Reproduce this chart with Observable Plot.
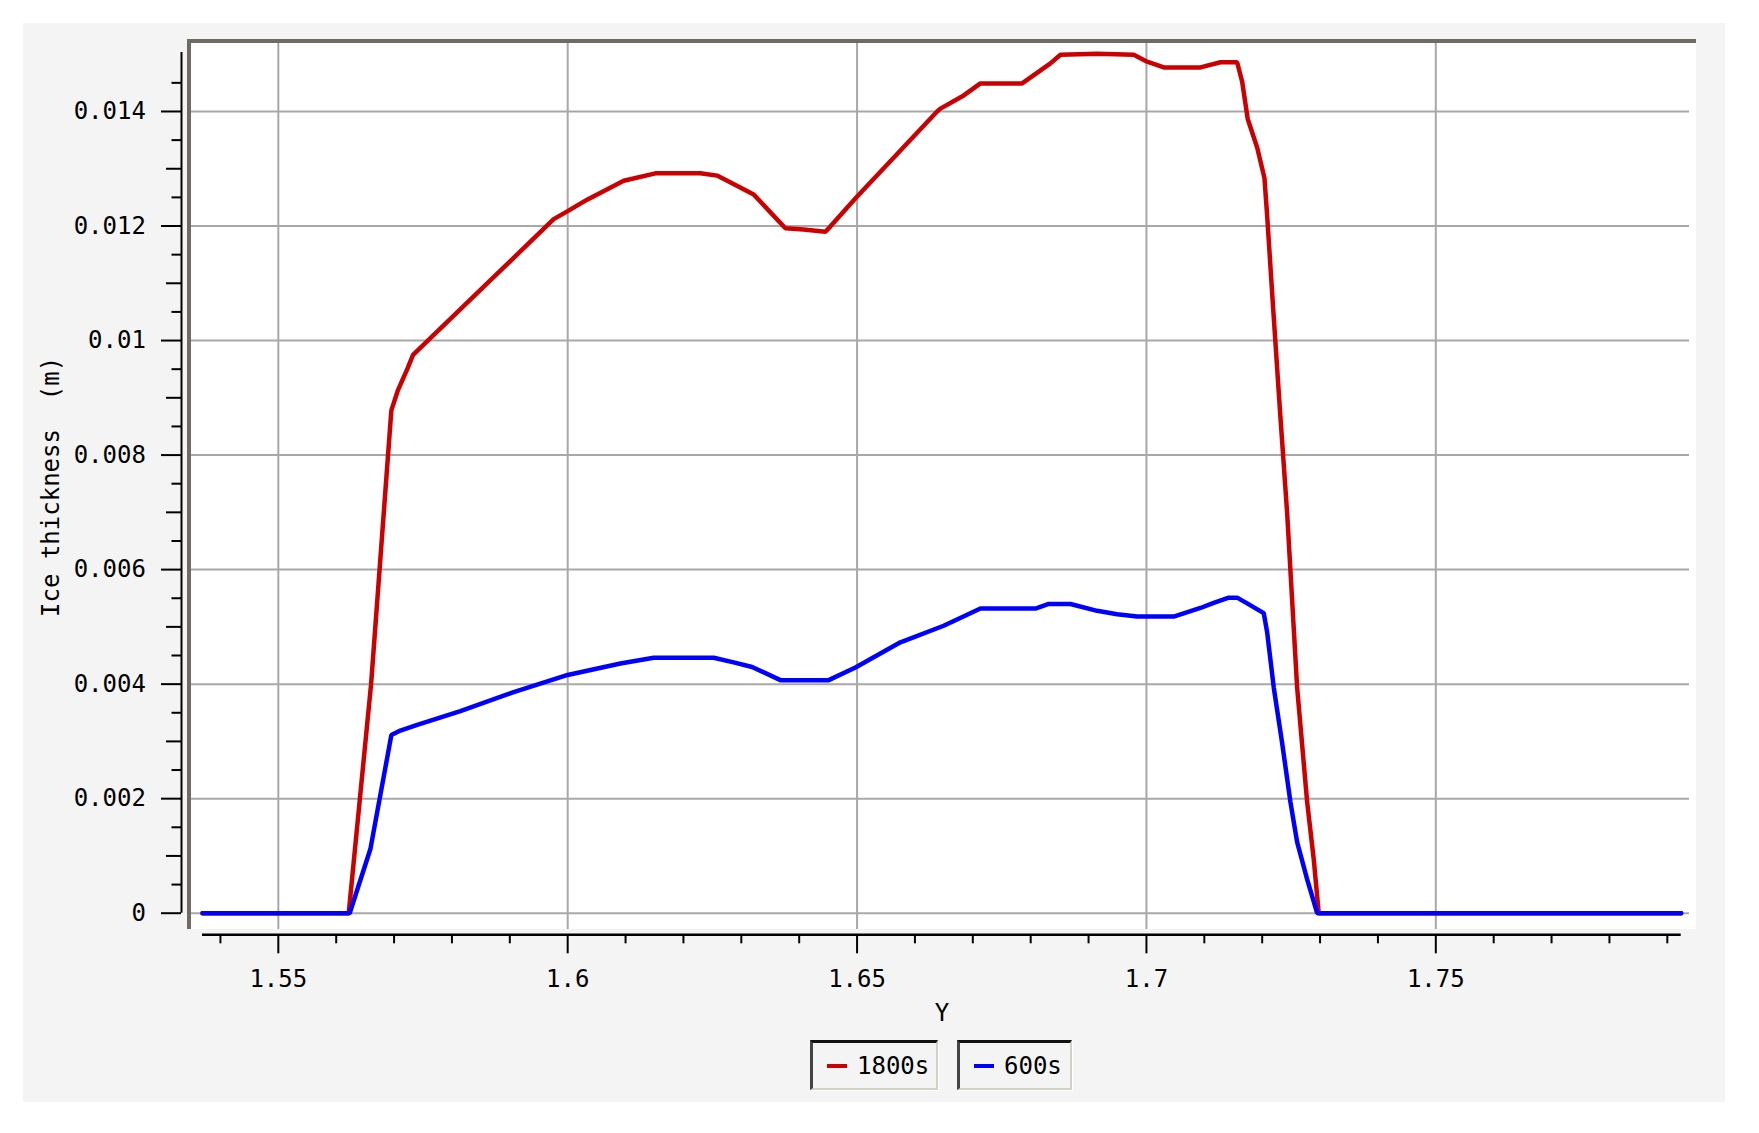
<!DOCTYPE html>
<html>
<head>
<meta charset="utf-8">
<script src="https://cdn.jsdelivr.net/npm/d3@7"></script>
<script src="https://cdn.jsdelivr.net/npm/@observablehq/plot@0.6"></script>
<style>
html, body { margin: 0; padding: 0; background: #ffffff; }
#page { position: relative; width: 1759px; height: 1133px; overflow: hidden; font-family: "DejaVu Sans Mono", "Liberation Mono", monospace; }
#panel { position: absolute; left: 23px; top: 23px; width: 1702px; height: 1079px; background: #f4f4f4; }
#frame { position: absolute; left: 187px; top: 39px; width: 1509px; height: 890px; background: #ffffff;
         border-top: 4px solid #6e6a64; border-left: 4px solid #6e6a64; box-sizing: border-box; }
#chart { position: absolute; left: 0; top: 0; }
.lg { position: absolute; top: 1040px; height: 50px; box-sizing: border-box;
      border-top: 3px solid #111111; border-left: 3px solid #444444;
      border-right: 2px solid #d4d0c8; border-bottom: 2px solid #d4d0c8;
      box-shadow: 1px 1px 0 #ffffff; background: #f4f4f4;
      display: flex; align-items: center; padding-left: 14px;
      font-size: 24px; color: #000000; white-space: nowrap; }
.sw { width: 20px; height: 4px; margin-right: 10px; flex: none; }
</style>
</head>
<body>
<div id="page">
  <div id="panel"></div>
  <div id="frame"></div>
  <div id="chart"></div>
  <div id="legend"></div>
</div>
<script>
// ---- data ----
const posY1800 = [1.5369, 1.56216, 1.56603, 1.56953, 1.57062, 1.57235, 1.57328, 1.58837, 1.59758, 1.6,
  1.60335, 1.60968, 1.61515, 1.62293, 1.62581, 1.63214, 1.63762, 1.64078, 1.64453, 1.64537, 1.64977,
  1.66383, 1.6644, 1.66843, 1.67131, 1.67852, 1.68341, 1.68514, 1.69148, 1.69781, 1.70012, 1.70299,
  1.70933, 1.71279, 1.71567, 1.71654, 1.7175, 1.71913, 1.72039, 1.72085, 1.72189, 1.72303, 1.72431,
  1.72604, 1.72777, 1.72891, 1.72977, 1.7924];
const ice1800 = [0, 0, 0.0040, 0.00878, 0.00912, 0.00952, 0.00975, 0.01122, 0.01212, 0.01226,
  0.01246, 0.01279, 0.01292, 0.01292, 0.01288, 0.01255, 0.01196, 0.01194, 0.0119, 0.01199, 0.01249,
  0.0140, 0.01405, 0.01428, 0.01449, 0.01449, 0.01484, 0.01499, 0.01501, 0.01499, 0.01487, 0.01477,
  0.01477, 0.01486, 0.01486, 0.01452, 0.01387, 0.01337, 0.01284, 0.01219, 0.01057, 0.00884, 0.00699,
  0.00394, 0.00194, 0.00094, 0, 0];

const posY600 = [1.5369, 1.56233, 1.56591, 1.56953, 1.57109, 1.5740, 1.58146, 1.59067, 1.6, 1.60911,
  1.61486, 1.62523, 1.62868, 1.63186, 1.63676, 1.6451, 1.64972, 1.65749, 1.66497, 1.67132, 1.68082,
  1.68312, 1.68687, 1.69148, 1.69494, 1.69839, 1.70472, 1.70933, 1.71163, 1.71422, 1.71567, 1.7174,
  1.72027, 1.72085, 1.722, 1.72345, 1.72488, 1.72604, 1.72777, 1.7295, 1.7924];
const ice600 = [0, 0, 0.00112, 0.00311, 0.00319, 0.00329, 0.00353, 0.00386, 0.00416, 0.00436,
  0.00446, 0.00446, 0.00438, 0.0043, 0.00407, 0.00407, 0.00429, 0.00473, 0.00502, 0.00532, 0.00532,
  0.0054, 0.0054, 0.00528, 0.00522, 0.00518, 0.00518, 0.00533, 0.00542, 0.00551, 0.00551, 0.00541,
  0.00524, 0.00491, 0.00394, 0.00297, 0.00194, 0.00124, 0.00059, 0, 0];

const seriesNames = ["1800s", "600s"];
const seriesColors = ["#cc0000", "#0000ff"];

const xMajor = [1.55, 1.6, 1.65, 1.7, 1.75];
const xMajorLabels = ["1.55", "1.6", "1.65", "1.7", "1.75"];
const xMinor = [1.54, 1.56, 1.57, 1.58, 1.59, 1.61, 1.62, 1.63, 1.64, 1.66, 1.67, 1.68, 1.69,
  1.71, 1.72, 1.73, 1.74, 1.76, 1.77, 1.78, 1.79];
const yMajor = [0, 0.002, 0.004, 0.006, 0.008, 0.01, 0.012, 0.014];
const yMajorLabels = ["0", "0.002", "0.004", "0.006", "0.008", "0.01", "0.012", "0.014"];
const yMid = [0.001, 0.003, 0.005, 0.007, 0.009, 0.011, 0.013];
const yMinor = [0.0005, 0.0015, 0.0025, 0.0035, 0.0045, 0.0055, 0.0065, 0.0075, 0.0085, 0.0095,
  0.0105, 0.0115, 0.0125, 0.0135, 0.0145];
const xDomain = [1.5369, 1.7924];
const yDomain = [0, 0.01503];
const xTitle = "Y";
const yTitle = "Ice thickness\u00a0\u00a0(m)";

// ---- chart ----
const font = "DejaVu Sans Mono";
const pts1800 = posY1800.map((x, i) => [x, ice1800[i]]);
const pts600 = posY600.map((x, i) => [x, ice600[i]]);
const gridColor = "#a8a8a8";

const chart = Plot.plot({
  width: 1759,
  height: 1040,
  marginLeft: 202,
  marginRight: 78.3,
  marginTop: 52,
  marginBottom: 127.3,
  style: { background: "transparent", fontFamily: font, fontSize: "24px", color: "#000" },
  x: { domain: xDomain, axis: null, label: null },
  y: { domain: yDomain, axis: null, label: null },
  marks: [
    // grid
    Plot.ruleX(xMajor, { stroke: gridColor, strokeWidth: 2, insetTop: -9, insetBottom: -16.3 }),
    Plot.ruleY(yMajor, { stroke: gridColor, strokeWidth: 2, insetLeft: -11, insetRight: -8.3 }),
    // y axis
    Plot.ruleX([xDomain[0]], { y1: yDomain[0], y2: yDomain[1], dx: -21, stroke: "#000", strokeWidth: 2 }),
    Plot.axisY(yMajor, { anchor: "left", tickSize: 20, dx: -21, tickPadding: 15.6, strokeWidth: 2,
      tickFormat: (d, i) => yMajorLabels[i], fontSize: 24, fontFamily: font, label: null }),
    Plot.axisY(yMid, { anchor: "left", tickSize: 15, dx: -21, strokeWidth: 2,
      tickFormat: () => "", label: null }),
    Plot.axisY(yMinor, { anchor: "left", tickSize: 9.5, dx: -21, strokeWidth: 2,
      tickFormat: () => "", label: null }),
    // x axis
    Plot.ruleY([yDomain[0]], { x1: xDomain[0], x2: xDomain[1], dy: 21.6, stroke: "#000", strokeWidth: 2.5 }),
    Plot.axisX(xMajor, { anchor: "bottom", tickSize: 19, dy: 21.6, tickPadding: 16, strokeWidth: 2,
      tickFormat: (d, i) => xMajorLabels[i], fontSize: 24, fontFamily: font, label: null }),
    Plot.axisX(xMinor, { anchor: "bottom", tickSize: 9, dy: 21.6, strokeWidth: 2,
      tickFormat: () => "", label: null }),
    // titles
    Plot.text([xTitle], { frameAnchor: "bottom", lineAnchor: "middle", dy: 100, fontSize: 24, fontFamily: font, fill: "#000" }),
    Plot.text([yTitle], { frameAnchor: "left", textAnchor: "middle", lineAnchor: "middle", rotate: -90,
      dx: -151, dy: 4, fontSize: 24, fontFamily: font, fill: "#000" }),
    // series
    Plot.line(pts1800, { stroke: seriesColors[0], strokeWidth: 4.5, strokeLinejoin: "miter" }),
    Plot.line(pts600, { stroke: seriesColors[1], strokeWidth: 4.5, strokeLinejoin: "miter" })
  ]
});
document.getElementById("chart").appendChild(chart);

// ---- legend ----
const legendLeft = [810, 957];
const legendWidth = [128, 115];
const legend = document.getElementById("legend");
seriesNames.forEach((name, i) => {
  const box = document.createElement("div");
  box.className = "lg";
  box.style.left = legendLeft[i] + "px";
  box.style.width = legendWidth[i] + "px";
  const sw = document.createElement("span");
  sw.className = "sw";
  sw.style.background = seriesColors[i];
  const tx = document.createElement("span");
  tx.textContent = name;
  box.appendChild(sw);
  box.appendChild(tx);
  legend.appendChild(box);
});
</script>
</body>
</html>
